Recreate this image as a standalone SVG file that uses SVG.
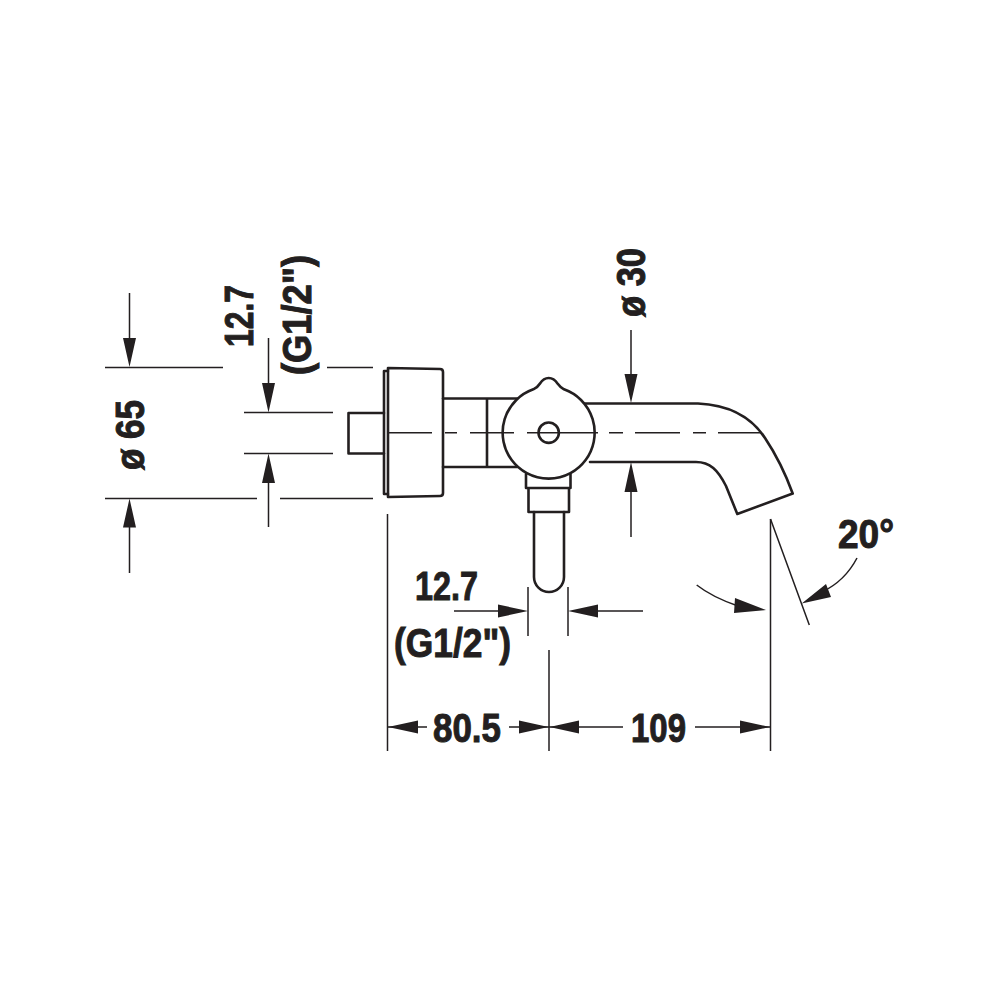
<svg xmlns="http://www.w3.org/2000/svg" width="1000" height="1000" viewBox="0 0 1000 1000">
<style>
.o{fill:none;stroke:#231f20;stroke-width:2.6;stroke-linejoin:round;stroke-linecap:round}
.c{fill:none;stroke:#231f20;stroke-width:1.5}
.t{font-family:"Liberation Sans",Arial,sans-serif;font-weight:700;font-size:41px;fill:#231f20;stroke:#231f20;stroke-width:1}
.h{fill:#231f20;stroke:none}
</style>
<rect width="1000" height="1000" fill="#fff"/>
<g id="faucet">
<path class="o" d="M388 371H384V494H388"/>
<path class="o" d="M388 368L440 369Q443 369 443 372V493Q443 496 440 496L388 497Z"/>
<path class="o" d="M384 413H348.500V453.500H384"/>
<path class="o" d="M443 398.500H517M443 467H517M487 398.500V467"/>
<path class="o" d="M533.300 389.300Q538 387 540 383.500Q543.500 378 548.700 378Q554 378 557.500 383.500Q560 387 564 389.300A46 46 0 1 1 533.300 389.300Z"/>
<circle class="o" cx="548.700" cy="432.700" r="10.200"/>
<path class="o" d="M526 474V488H570.500V474M528.500 488V512H569V488"/>
<path class="o" d="M534 512V577A15 15 0 0 0 564 577V512"/>
<path class="o" d="M585 403.500H698C730 405 752 418 765 438C775 453 783 467 792.700 493.500L737.300 514L726 486C718 470 710 462 696 462H590"/>
<path class="c" d="M388 432.700H432M445 432.700H457M470 432.700H514M527 432.700H598M609 432.700H623M635 432.700H680M693 432.700H706M718 432.700H762"/>
</g>
<g id="connectors">
<path class="c" d="M105 367.500H223M327 367.500H373M105 498.500H257M280 498.500H373M244 412.500H333M244 453.500H333"/>
<path class="c" d="M129.500 293V340M129.500 526V573M268.500 338V385M268.500 481V527"/>
<path class="h" d="M129.500 367L123 338H136ZM129.500 498.500L123 527.500H136ZM268.500 412.500L262 383H275ZM268.500 453.500L262 483H275Z"/>
<path class="c" d="M631 330V378M631 490V537"/>
<path class="h" d="M631 403L624.500 374H637.500ZM631 462L624.500 492H637.500Z"/>
<path class="c" d="M387.500 514V751M549 650V751M770.500 519V751M528 587V636M568 587V636"/>
<path class="c" d="M388 727H427M509 727H549M549 727H623M695 727H770M454 611H505M592 611H643"/>
<path class="h" d="M388 727L418 720.500V733.500ZM548.500 727L519 720.500V733.500ZM549.500 727L579 720.500V733.500ZM770 727L740 720.500V733.500ZM528 611L498 604.500V617.500ZM568 611L598 604.500V617.500Z"/>
<path class="c" d="M770.500 519L809.300 625M696.700 585Q712 597 738 606M857 558Q845 581 822 592"/>
<path class="h" d="M766 610L735 598L734 613ZM801.700 603.500L826 584L831 597Z"/>
</g>
<g id="labels">
<text class="t" transform="translate(143.500 470) rotate(-90)" textLength="70" lengthAdjust="spacingAndGlyphs">ø 65</text>
<text class="t" transform="translate(253 347) rotate(-90)" textLength="62" lengthAdjust="spacingAndGlyphs">12.7</text>
<text class="t" transform="translate(311 375) rotate(-90)" textLength="120" lengthAdjust="spacingAndGlyphs">(G1/2")</text>
<text class="t" transform="translate(645 317) rotate(-90)" textLength="69" lengthAdjust="spacingAndGlyphs">ø 30</text>
<text class="t" x="415" y="600" textLength="63" lengthAdjust="spacingAndGlyphs">12.7</text>
<text class="t" x="394" y="657" textLength="117" lengthAdjust="spacingAndGlyphs">(G1/2")</text>
<text class="t" x="433" y="742" textLength="68" lengthAdjust="spacingAndGlyphs">80.5</text>
<text class="t" x="631" y="742" textLength="55" lengthAdjust="spacingAndGlyphs">109</text>
<text class="t" x="838" y="548" textLength="56" lengthAdjust="spacingAndGlyphs">20°</text>
</g>
</svg>
